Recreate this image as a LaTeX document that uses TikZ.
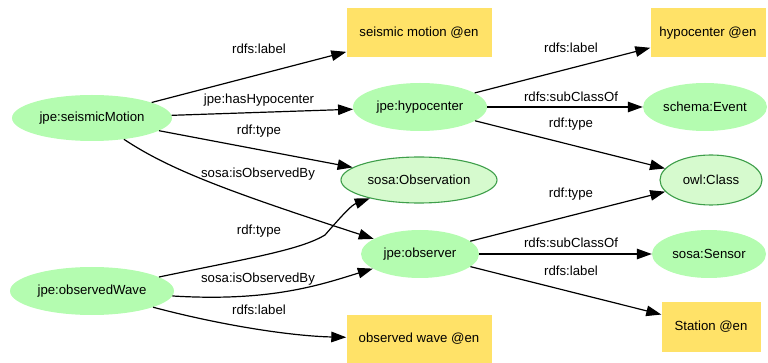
\documentclass[tikz,border=0pt]{standalone}
\usepackage{fontspec}
\setmainfont{Liberation Sans}
\usetikzlibrary{shapes.geometric,arrows.meta}
\definecolor{clsgreen}{RGB}{180,252,176}
\definecolor{hlgreen}{RGB}{214,250,206}
\definecolor{hlborder}{RGB}{62,158,74}
\definecolor{lityellow}{RGB}{255,226,104}
\tikzset{
	cls/.style={ellipse, fill=clsgreen, inner sep=0pt, font=\fontsize{13.2}{16}\selectfont},
	hl/.style={cls, fill=hlgreen, draw=hlborder, line width=1.1pt},
	lit/.style={rectangle, fill=lityellow, inner sep=0pt, font=\fontsize{13.2}{16}\selectfont},
	lbl/.style={inner sep=0pt, font=\fontsize{13.2}{16}\selectfont},
	edge/.style={line width=1.2pt, -{Triangle[length=15pt,width=10.5pt]}}
}

\begin{document}
\begin{tikzpicture}[x=1pt, y=-1pt]
			%%%%% START %%%%%
			\useasboundingbox (0, 0) rectangle (768, 363);
			
			\node[cls, minimum width=160, minimum height=46] (seismic) at (92, 118) {jpe:seismicMotion};
			\node[cls, minimum width=164, minimum height=48] (wave) at (92, 291) {jpe:observedWave};
			
			\node[lit, minimum width=145, minimum height=49] (seismiclab) at (419, 33) {seismic motion @en};
			\node[cls, minimum width=134, minimum height=48] (hypo) at (420, 107) {jpe:hypocenter};
			\node[hl, minimum width=156, minimum height=46] (observation) at (419, 180) {sosa:Observation};
			\node[cls, minimum width=118, minimum height=48] (observer) at (420, 254) {jpe:observer};
			\node[lit, minimum width=145, minimum height=48] (wavelab) at (419, 339) {observed wave @en};
			
			\node[lit, minimum width=115, minimum height=49] (hypolab) at (708, 33) {hypocenter @en};
			\node[cls, minimum width=124, minimum height=48] (event) at (705, 107) {schema:Event};
			\node[hl, minimum width=102, minimum height=50] (owlclass) at (711, 180) {owl:Class};
			\node[cls, minimum width=114, minimum height=48] (sensor) at (709, 254) {sosa:Sensor};
			\node[lit, minimum width=99, minimum height=50] (stationlab) at (711, 327) {Station @en};
			
			% left column of edges
			\draw[edge] (seismic) -- (seismiclab);
			\draw[edge] (seismic) -- (hypo);
			\draw[edge] (seismic) -- (observation);
			\draw[edge] (seismic) .. controls (170, 170) and (230, 192) .. (observer);
			\draw[edge] (wave) .. controls (250, 258) and (300, 250) .. (325, 235) .. controls (345, 212) and (352, 205) .. (observation);
			\draw[edge] (wave) .. controls (270, 302) and (320, 285) .. (observer);
			\draw[edge] (wave) .. controls (220, 325) and (290, 336) .. (wavelab);
			
			\node[lbl] (l1) at (259, 49) {rdfs:label};
			\node[lbl] (l2) at (259, 100) {jpe:hasHypocenter};
			\node[lbl] (l3) at (259, 131) {rdf:type};
			\node[lbl] (l4) at (258, 174) {sosa:isObservedBy};
			\node[lbl] (l5) at (259, 231) {rdf:type};
			\node[lbl] (l6) at (258, 279) {sosa:isObservedBy};
			\node[lbl] (l7) at (259, 310) {rdfs:label};
			
			% right column of edges
			\draw[edge] (hypo) -- (hypolab);
			\draw[edge] (hypo) -- (event);
			\draw[edge] (hypo) -- (owlclass);
			\draw[edge] (observer) -- (owlclass);
			\draw[edge] (observer) -- (sensor);
			\draw[edge] (observer) -- (stationlab);
			
			\node[lbl] (r1) at (571, 48) {rdfs:label};
			\node[lbl] (r2) at (571, 97) {rdfs:subClassOf};
			\node[lbl] (r3) at (571, 124) {rdf:type};
			\node[lbl] (r4) at (571, 194) {rdf:type};
			\node[lbl] (r5) at (571, 243) {rdfs:subClassOf};
			\node[lbl] (r6) at (571, 271) {rdfs:label};
			
			%%%%% END %%%%%
\end{tikzpicture}
\end{document}
